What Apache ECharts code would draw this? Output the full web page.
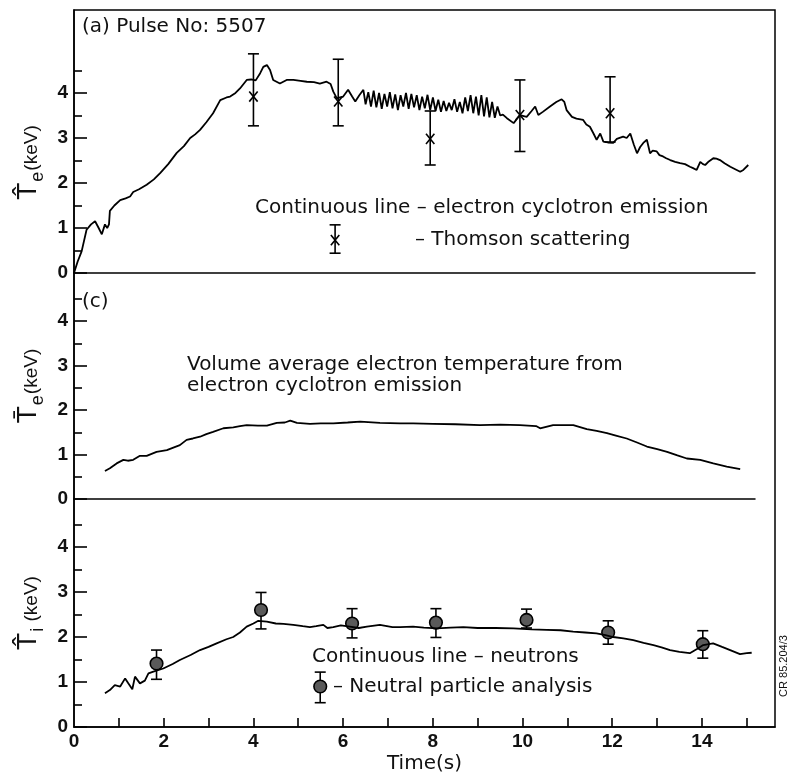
<!DOCTYPE html>
<html><head><meta charset="utf-8">
<script src="https://cdn.jsdelivr.net/npm/echarts@6/dist/echarts.min.js"></script>
<style>html,body{margin:0;padding:0;background:#fff}#c{width:788px;height:784px}</style>
</head><body><div id="c"></div>
<script>
// ---- Panel (a): peak electron temperature from ECE ----
const eceTime = [0,0.08,0.17,0.28,0.38,0.47,0.55,0.62,0.69,0.74,0.78,0.8,0.9,1.03,1.15,1.25,1.32,1.45,1.62,1.78,1.92,2.1,2.29,2.45,2.59,2.7,2.81,2.95,3.1,3.26,3.4,3.48,3.6,3.7,3.85,3.95,4.05,4.15,4.22,4.3,4.37,4.44,4.59,4.74,4.89,5.05,5.19,5.35,5.48,5.63,5.72,5.78,5.86,5.93,6.0,6.11,6.2,6.27,6.36,6.45,
 6.5,6.56,6.62,6.68,6.74,6.8,6.86,6.92,6.98,7.04,7.1,7.16,7.22,7.28,7.34,7.4,7.46,7.52,7.58,7.64,7.7,7.76,7.82,7.88,7.94,8.0,8.06,8.12,8.18,8.24,8.3,8.36,8.42,8.48,8.54,8.6,8.66,8.72,8.78,8.84,8.9,8.96,9.02,9.08,9.14,9.2,9.26,9.32,9.38,9.44,9.5,9.56,
 9.65,9.8,9.94,10.09,10.2,10.28,10.35,10.45,10.61,10.75,10.87,10.93,10.98,11.1,11.2,11.35,11.42,11.5,11.58,11.65,11.73,11.8,11.9,12.02,12.1,12.24,12.32,12.4,12.48,12.55,12.62,12.69,12.77,12.84,12.9,12.99,13.05,13.13,13.2,13.29,13.4,13.51,13.62,13.73,13.8,13.88,13.96,14.02,14.07,14.15,14.25,14.32,14.4,14.5,14.63,14.75,14.85,14.92,15.03];
const eceValue = [0,0.25,0.48,0.96,1.08,1.15,1.0,0.86,1.08,1.0,1.08,1.38,1.5,1.62,1.66,1.7,1.8,1.86,1.96,2.08,2.22,2.42,2.67,2.82,3.0,3.08,3.18,3.35,3.55,3.84,3.9,3.92,4.0,4.1,4.29,4.3,4.28,4.44,4.58,4.62,4.51,4.29,4.21,4.29,4.29,4.27,4.25,4.24,4.21,4.25,4.2,4.03,3.88,3.9,3.92,4.07,3.92,3.81,3.95,4.07,
 3.75,4.02,3.7,4.05,3.68,4.0,3.65,3.98,3.7,4.02,3.66,3.97,3.62,3.95,3.7,4.0,3.65,3.98,3.68,3.95,3.62,3.92,3.66,3.96,3.62,3.9,3.6,3.85,3.58,3.82,3.6,3.78,3.62,3.86,3.58,3.8,3.55,3.9,3.6,3.95,3.55,3.92,3.5,3.95,3.48,3.9,3.46,3.8,3.45,3.7,3.5,3.52,
 3.44,3.33,3.51,3.47,3.6,3.7,3.51,3.58,3.7,3.8,3.86,3.8,3.62,3.47,3.43,3.4,3.3,3.25,3.1,2.96,3.1,2.92,2.9,2.89,2.98,3.03,3.0,3.1,2.85,2.66,2.8,2.89,2.96,2.66,2.72,2.7,2.62,2.59,2.55,2.51,2.47,2.44,2.42,2.36,2.33,2.29,2.47,2.42,2.4,2.48,2.55,2.54,2.51,2.44,2.36,2.3,2.25,2.29,2.4];
// Thomson scattering points
const thomsonTime = [4.0, 5.89, 7.94, 9.94, 11.95];
const thomsonValue = [3.92, 3.81, 2.98, 3.51, 3.55];
const thomsonLow = [3.27, 3.27, 2.4, 2.7, 2.91];
const thomsonHigh = [4.87, 4.75, 3.6, 4.29, 4.36];
const thomsonKey = [5.82, 0.73, 0.44, 1.07];

// ---- Panel (c): volume average electron temperature ----
const volTime = [0.69,0.8,0.95,1.1,1.2,1.32,1.47,1.62,1.84,2.07,2.2,2.36,2.51,2.65,2.81,2.95,3.1,3.33,3.55,3.7,3.85,4.1,4.3,4.52,4.7,4.82,4.97,5.26,5.5,5.78,6.1,6.38,6.82,7.27,7.56,8.0,8.5,9.05,9.5,9.94,10.3,10.39,10.68,11.13,11.43,11.65,11.88,12.1,12.32,12.55,12.77,13.0,13.22,13.45,13.66,13.96,14.25,14.55,14.85];
const volValue = [0.63,0.69,0.8,0.88,0.86,0.88,0.97,0.97,1.06,1.1,1.15,1.21,1.33,1.36,1.4,1.46,1.51,1.59,1.61,1.64,1.66,1.65,1.65,1.71,1.72,1.76,1.71,1.69,1.7,1.7,1.72,1.74,1.71,1.7,1.7,1.69,1.68,1.66,1.67,1.66,1.64,1.59,1.66,1.66,1.57,1.53,1.48,1.42,1.36,1.27,1.18,1.12,1.06,0.98,0.91,0.88,0.8,0.73,0.67];

// ---- Bottom panel: ion temperature ----
const ionTime = [0.69,0.8,0.91,1.03,1.14,1.21,1.3,1.36,1.47,1.58,1.66,1.77,1.99,2.2,2.36,2.6,2.81,3.0,3.18,3.4,3.55,3.7,3.85,4.0,4.11,4.3,4.5,4.67,4.89,5.1,5.26,5.4,5.56,5.65,5.78,5.95,6.15,6.35,6.53,6.82,7.1,7.27,7.56,7.8,8.09,8.4,8.68,9.0,9.4,9.8,10.2,10.54,10.85,11.13,11.4,11.65,11.85,12.02,12.25,12.47,12.7,12.92,13.1,13.29,13.5,13.73,13.9,14.03,14.25,14.45,14.63,14.85,15.0,15.11];
const ionValue = [0.75,0.82,0.93,0.9,1.08,0.97,0.84,1.12,0.97,1.03,1.19,1.23,1.3,1.4,1.49,1.6,1.71,1.78,1.86,1.95,2.0,2.1,2.23,2.3,2.36,2.34,2.3,2.29,2.27,2.24,2.22,2.24,2.27,2.2,2.22,2.26,2.23,2.2,2.23,2.27,2.22,2.22,2.23,2.21,2.19,2.21,2.22,2.2,2.2,2.19,2.17,2.16,2.15,2.12,2.1,2.08,2.04,2.0,1.97,1.93,1.87,1.82,1.77,1.71,1.67,1.64,1.74,1.82,1.86,1.78,1.71,1.62,1.64,1.65];
// Neutral particle analysis points
const npaTime = [1.84, 4.17, 6.2, 8.07, 10.09, 11.91, 14.02];
const npaValue = [1.41, 2.6, 2.3, 2.32, 2.38, 2.1, 1.84];
const npaLow = [1.06, 2.18, 1.98, 1.99, 2.2, 1.84, 1.53];
const npaHigh = [1.71, 2.99, 2.63, 2.63, 2.62, 2.36, 2.14];
const npaKey = [5.49, 0.9, 0.54, 1.22];

// ---- axes ----
const xMaxFull = 15.63;   // bottom panel / frame reaches the right border
const xMaxInner = 15.18;  // upper panels' dividing lines stop short of the border
const xTickValues = [1,2,3,4,5,6,7,8,9,10,11,12,13,14,15];
const xLabelValues = [0,2,4,6,8,10,12,14];
const yLabelValues = [0,1,2,3,4];
const yHalfValues = [0.5,1.5,2.5,3.5,4.5];
const yMaxes = [5.844, 5.08, 5.067];

const FONT = '"Liberation Sans", Arial, sans-serif';
const TFONT = '"DejaVu Sans", sans-serif';
const zip = (a, b) => a.map((v, i) => [v, b[i]]);
const zip4 = (a, b, c, d) => a.map((v, i) => [v, b[i], c[i], d[i]]);

const grids = [
  {left: 74, right: 33, top: 10, height: 263},
  {left: 74, right: 33, top: 273, height: 226},
  {left: 74, right: 13, top: 499, height: 228},
  {left: 74, right: 13, top: 10, height: 717, show: true, borderColor: '#000', borderWidth: 1.5, backgroundColor: 'transparent'}
];

const xAxes = [0,1,2].map(i => ({
  gridIndex: i, type: 'value', min: 0, max: i === 2 ? xMaxFull : xMaxInner,
  splitLine: {show: false},
  axisLine: {show: true, onZero: false, lineStyle: {color: '#000', width: 1.5}},
  axisTick: {show: i === 2, inside: true, length: 9, customValues: xTickValues, lineStyle: {color: '#000', width: 1.6}},
  axisLabel: {show: i === 2, customValues: xLabelValues, fontSize: 19, fontWeight: 'bold', color: '#111', fontFamily: FONT, margin: 5},
  name: i === 2 ? 'Time(s)' : '', nameLocation: 'middle', nameGap: 27,
  nameTextStyle: {fontSize: 20, color: '#111', fontFamily: TFONT}
}));
xAxes.push({gridIndex: 3, type: 'value', min: 0, max: 1, show: false});

const names = [
  '{t|T\u0302}{s|e}{k|(keV)}',
  '{t|T\u0304}{s|e}{k|(keV)}',
  '{t|T\u0302}{s|i}{k| (keV)}'
];
const namePad = [[0, 42, 0, 0], [0, 0, 0, 0], [0, 0, 0, 0]];
const rich = {
  t: {fontSize: 28, fontFamily: FONT, color: '#111', verticalAlign: 'bottom', padding: [0, 0, 4, 0]},
  s: {fontSize: 18, fontFamily: FONT, color: '#111', verticalAlign: 'bottom', padding: [0, 1, 0, 1]},
  k: {fontSize: 19, fontFamily: FONT, color: '#111', verticalAlign: 'bottom', padding: [0, 0, 5, 0]}
};
const yAxes = [];
[0,1,2].forEach(i => {
  yAxes.push({
    gridIndex: i, type: 'value', min: 0, max: yMaxes[i], interval: 1,
    splitLine: {show: false},
    axisLine: {show: true, lineStyle: {color: '#000', width: 1.5}},
    axisTick: {show: true, inside: true, length: 13, customValues: yLabelValues, lineStyle: {color: '#000', width: 1.6}},
    axisLabel: {customValues: yLabelValues, fontSize: 19, fontWeight: 'bold', color: '#111', fontFamily: FONT, margin: 6},
    name: names[i], nameLocation: 'middle', nameRotate: 90, nameGap: 26,
    nameTextStyle: {rich: rich, padding: namePad[i]}
  });
  yAxes.push({
    gridIndex: i, type: 'value', min: 0, max: yMaxes[i], position: 'left',
    splitLine: {show: false}, axisLine: {show: false},
    axisTick: {show: true, inside: true, length: 8, customValues: yHalfValues, lineStyle: {color: '#000', width: 1.6}},
    axisLabel: {show: false}
  });
});
yAxes.push({gridIndex: 3, type: 'value', min: 0, max: 1, show: false});

function errorItem(kind) {
  return function (params, api) {
    const x = api.value(0), v = api.value(1), lo = api.value(2), hi = api.value(3);
    const pv = api.coord([x, v]), pl = api.coord([x, lo]), ph = api.coord([x, hi]);
    const cw = 5.5, st = {stroke: '#000', lineWidth: 1.6};
    const ch = [
      {type: 'line', shape: {x1: pl[0], y1: pl[1], x2: ph[0], y2: ph[1]}, style: st},
      {type: 'line', shape: {x1: pl[0] - cw, y1: pl[1], x2: pl[0] + cw, y2: pl[1]}, style: st},
      {type: 'line', shape: {x1: ph[0] - cw, y1: ph[1], x2: ph[0] + cw, y2: ph[1]}, style: st}
    ];
    if (kind === 'x') {
      const s = 4.2;
      ch.push({type: 'line', shape: {x1: pv[0] - s, y1: pv[1] - s * 1.2, x2: pv[0] + s, y2: pv[1] + s * 1.2}, style: st});
      ch.push({type: 'line', shape: {x1: pv[0] - s, y1: pv[1] + s * 1.2, x2: pv[0] + s, y2: pv[1] - s * 1.2}, style: st});
    } else {
      ch.push({type: 'circle', shape: {cx: pv[0], cy: pv[1], r: 6.3}, style: {fill: '#5a5a5a', stroke: '#000', lineWidth: 1.6}});
    }
    return {type: 'group', children: ch};
  };
}

const lineStyle = {color: '#000', width: 1.8};
const txt = (x, y, text) => ({type: 'text', x: x, y: y, style: {text: text, font: '20px ' + TFONT, fill: '#111', verticalAlign: 'middle'}});
const option = {
  animation: false,
  backgroundColor: '#fff',
  grid: grids,
  xAxis: xAxes,
  yAxis: yAxes,
  series: [
    {type: 'line', xAxisIndex: 0, yAxisIndex: 0, data: zip(eceTime, eceValue), showSymbol: false, lineStyle: lineStyle},
    {type: 'custom', xAxisIndex: 0, yAxisIndex: 0, renderItem: errorItem('x'),
     data: zip4(thomsonTime, thomsonValue, thomsonLow, thomsonHigh).concat([thomsonKey]), encode: {x: 0, y: 1}},
    {type: 'line', xAxisIndex: 1, yAxisIndex: 2, data: zip(volTime, volValue), showSymbol: false, lineStyle: lineStyle},
    {type: 'line', xAxisIndex: 2, yAxisIndex: 4, data: zip(ionTime, ionValue), showSymbol: false, lineStyle: lineStyle},
    {type: 'custom', xAxisIndex: 2, yAxisIndex: 4, renderItem: errorItem('o'),
     data: zip4(npaTime, npaValue, npaLow, npaHigh).concat([npaKey]), encode: {x: 0, y: 1}}
  ],
  graphic: [
    txt(82, 27, '(a) Pulse No: 5507'),
    txt(255, 208, 'Continuous line \u2013 electron cyclotron emission'),
    txt(415, 240, '\u2013 Thomson scattering'),
    txt(82, 302, '(c)'),
    txt(187, 365, 'Volume average electron temperature from'),
    txt(187, 386, 'electron cyclotron emission'),
    txt(312, 657, 'Continuous line \u2013 neutrons'),
    txt(333, 687, '\u2013 Neutral particle analysis'),
    {type: 'text', x: 784, y: 666, rotation: Math.PI / 2, style: {text: 'CR 85.204/3', font: '11px ' + FONT, fill: '#111', align: 'center', verticalAlign: 'middle'}}
  ]
};
echarts.init(document.getElementById('c'), null, {renderer: 'canvas'}).setOption(option);
</script></body></html>
